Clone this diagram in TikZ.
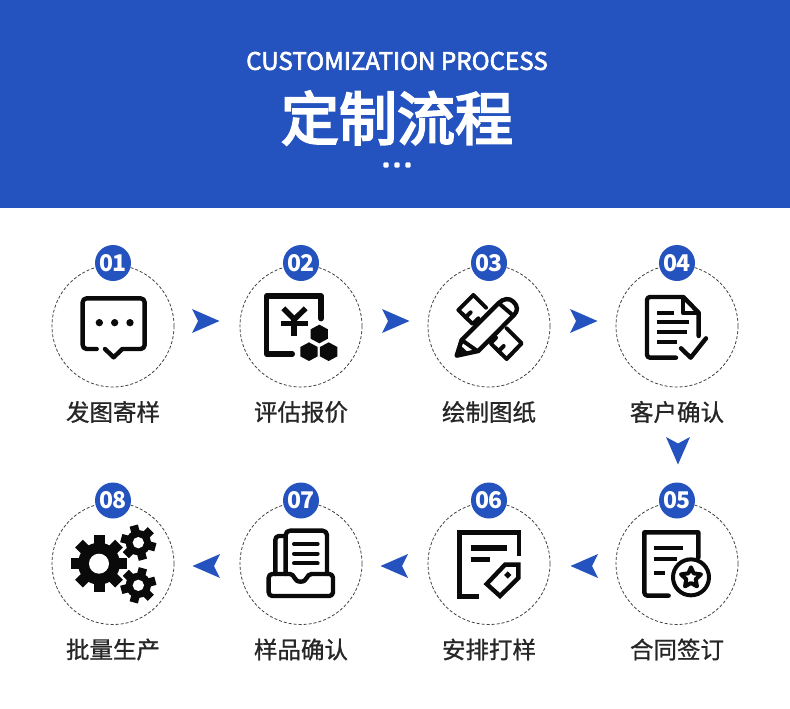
\documentclass[tikz,border=0pt]{standalone}
\usepackage{fontspec}
\usetikzlibrary{calc}
\setmainfont{Noto Sans CJK SC}
\newfontfamily\medfont[FakeBold=0.9]{Noto Sans CJK SC}
\newfontfamily\headfont[FakeBold=2.5]{Noto Sans CJK SC}
\newfontfamily\titlefont[FakeBold=3.6]{Noto Sans CJK SC}
\definecolor{brand}{HTML}{2452BE}
\definecolor{ink}{HTML}{0A0A0A}
\tikzset{
  ring/.style={circle,draw=black!75,line width=0.8pt,dash pattern=on 3pt off 2pt,minimum size=122pt,inner sep=0pt},
  badge/.style={circle,fill=brand,text=white,minimum size=36pt,inner sep=0pt,font=\fontsize{23}{24}\selectfont\bfseries},
  steplabel/.style={inner sep=0pt,text=black!85,font=\fontsize{23.5}{24}\medfont},
  pointer/.style={fill=brand,draw=none},
  ico/.style={draw=ink,line width=#1,line cap=round,line join=round},
  ico/.default=3.5pt,
  zoomA/.style={x=0.33333pt,y=-0.33333pt,shift={(40pt,-240pt)}},
  zoomB/.style={x=0.33333pt,y=-0.33333pt,shift={(410pt,-240pt)}},
  zoomC/.style={x=0.33333pt,y=-0.33333pt,shift={(40pt,-480pt)}},
  zoomD/.style={x=0.33333pt,y=-0.33333pt,shift={(410pt,-480pt)}},
  zoomE/.style={x=0.33333pt,y=-0.33333pt,shift={(450pt,-285pt)}},
}
% gear: x y body-radius tooth-tip hole teeth tooth-width start
\newcommand{\gearicon}[8]{%
  \fill[ink] (#1,#2) circle[radius=#3];
  \foreach \k in {1,...,#6}{
    \draw[ink,line width=#7,line cap=butt] ($(#1,#2)+({#8+\k*360/#6}:#3*0.8)$) -- ($(#1,#2)+({#8+\k*360/#6}:#4)$);
  }
  \fill[white] (#1,#2) circle[radius=#5];
}
\begin{document}
\begin{tikzpicture}[x=1pt,y=-1pt]
\useasboundingbox (0,0) rectangle (790,709);
\fill[white] (0,0) rectangle (790,709);
\fill[brand] (0,0) rectangle (790,208);
\node[inner sep=0pt,text=white,font=\fontsize{24.2}{25}\headfont] (en) at (397,61) {CUSTOMIZATION PROCESS};
\node[inner sep=0pt,text=white,font=\fontsize{58}{58}\titlefont] (title) at (397,118) {定制流程};
\foreach \x in {386,397,408}{\fill[white,rounded corners=1pt] (\x-2.6,162.4) rectangle (\x+2.6,167.6);}

% rings, badges, captions
\foreach \n/\x/\y/\t in {1/113/326/发图寄样,2/301/326/评估报价,3/489/326/绘制图纸,4/677/326/客户确认,
                         5/677/563.5/合同签订,6/489/563.5/安排打样,7/301/563.5/样品确认,8/113/563.5/批量生产}{
  \node[ring] (r\n) at (\x,\y) {};
  \node[badge] (b\n) at (\x,\y-63) {0\kern-0.6pt\n};
  \node[steplabel] (l\n) at (\x,\y+86) {\t};
}

% pointers
\foreach \x in {192,382,570}{\fill[pointer] (\x,309) -- (\x+27.5,321) -- (\x,333) -- (\x+6,321) -- cycle;}
\fill[pointer] (666,437) -- (678,443.5) -- (690,437) -- (678,464.5) -- cycle;
\foreach \x in {220,408,598}{\fill[pointer] (\x,554) -- (\x-27.5,566) -- (\x,578) -- (\x-6,566) -- cycle;}

% 01 speech bubble
\begin{scope}[zoomA]
\draw[ico=4.4pt] (170,327) -- (140,327) to[out=180,in=-90] (128,315) -- (128,187) to[out=90,in=180] (140,175) -- (302,175) to[out=0,in=90] (314,187) -- (314,315) to[out=-90,in=0] (302,327) -- (247,327) -- (221,352) -- (195,327);
\foreach \x in {178,224,270}{\fill[ink] (\x,248) circle[radius=11];}
\end{scope}

% 02 quote
\begin{scope}[zoomA]
\draw[ink,line width=5.4pt,line cap=round,line join=round] (843,236) -- (843,168) -- (680,168) -- (680,342) -- (757,342);
\draw[ink,line width=5.4pt,line cap=butt] (730,205) -- (763,238) -- (797,205);
\draw[ink,line width=5.4pt,line cap=butt] (722,250) -- (803,250);
\draw[ink,line width=6pt,line cap=butt] (763,236) -- (763,288);
\foreach \cx/\cy in {838/282,807/335,866/335}{
  \fill[ink] (\cx,\cy-28) -- (\cx+26,\cy-14) -- (\cx+26,\cy+14) -- (\cx,\cy+28) -- (\cx-26,\cy+14) -- (\cx-26,\cy-14) -- cycle;}
\end{scope}

% 03 ruler + pencil
\begin{scope}[zoomE]
\draw[ico=4pt] (108,68) -- (70,30) -- (25,75) -- (68,117) -- (85,100);
\draw[ico=4pt] (47,97) -- (62,82);
\draw[ico=4pt] (170,130) -- (215,175) -- (170,222) -- (122,175) -- (138,158);
\draw[ico=4pt] (146,198) -- (161,183);
\draw[ico=4.4pt] (20,212) -- (35,165) -- (145,55) .. controls (160,40) and (178,38) .. (190,50) .. controls (204,63) and (204,78) .. (192,90) -- (85,198) -- cycle;
\draw[ico=4pt] (35,165) -- (82,198);
\draw[ico=4pt] (147,55) -- (190,92);
\fill[ink] (20,212) -- (28,178) -- (56,204) -- cycle;
\end{scope}

% 04 document + tick
\begin{scope}[zoomB]
\draw[ico=4.4pt] (798,353) -- (720,353) to[out=180,in=-90] (711,344) -- (711,180) to[out=90,in=180] (720,171) -- (820,171) -- (866,218) -- (866,288);
\draw[ico=3.8pt] (818,173) -- (818,218) -- (866,218);
\foreach \a/\b/\c in {218/741/792,247/741/836,276/741/830,305/741/802}{
  \draw[ink,line width=3.8pt] (\b,\a) -- (\c,\a);}
\draw[ico=4.4pt] (813,325) -- (842,353) -- (888,295);
\end{scope}

% 05 contract + star
\begin{scope}[zoomD]
\draw[ico=4.4pt] (776,347) -- (712,347) to[out=180,in=-90] (703,338) -- (703,157) -- (865,157) -- (865,233);
\foreach \a/\c in {203/818,238/802,279/766}{\draw[ink,line width=4.2pt] (733,\a) -- (\c,\a);}
\draw[ink,line width=4pt] (843,292) circle[radius=54];
\draw[ico=4pt] (843,262) -- (851,280) -- (873,283) -- (857,298) -- (861,319) -- (843,309) -- (825,319) -- (829,298) -- (813,283) -- (835,280) -- cycle;
\end{scope}

% 06 sheet + tag
\begin{scope}[zoomD]
\draw[ink,line width=4.8pt,line join=miter] (208,350) -- (148,350) -- (148,157) -- (327,157) -- (327,227);
\draw[ink,line width=5.6pt] (182,204) -- (292,204);
\draw[ink,line width=5.6pt] (182,239) -- (240,239);
\draw[ink,line width=4.4pt,line join=miter] (230,312) -- (285,254) -- (325,254) -- (325,294) -- (270,348) -- cycle;
\fill[ink] (293,274) -- (304,285) -- (293,296) -- (282,285) -- cycle;
\end{scope}

% 07 tray
\begin{scope}[zoomC]
\draw[ico=4.4pt] (706,282) -- (706,180) to[out=90,in=180] (716,168) -- (735,168);
\draw[ico=4.4pt] (737,282) -- (737,165) to[out=90,in=180] (750,152) -- (848,152) to[out=0,in=90] (861,165) -- (861,282);
\draw[ico=4.4pt] (750,282) .. controls (765,282) and (760,305) .. (782,305) .. controls (804,305) and (798,282) .. (815,282) -- (868,282) to[out=0,in=90] (879,293) -- (879,337) to[out=-90,in=0] (868,348) -- (697,348) to[out=180,in=-90] (686,337) -- (686,293) to[out=90,in=180] (697,282) -- cycle;
\foreach \a in {192,221,250}{\draw[ico=4pt] (762,\a) -- (833,\a);}
\end{scope}

% 08 gears
\begin{scope}[zoomC]
\gearicon{177}{251}{63}{85}{30}{8}{11pt}{0}
\gearicon{295}{188}{38}{53}{17}{6}{8.5pt}{15}
\gearicon{295}{316}{38}{53}{17}{6}{8.5pt}{-15}
\end{scope}
\end{tikzpicture}
\end{document}
